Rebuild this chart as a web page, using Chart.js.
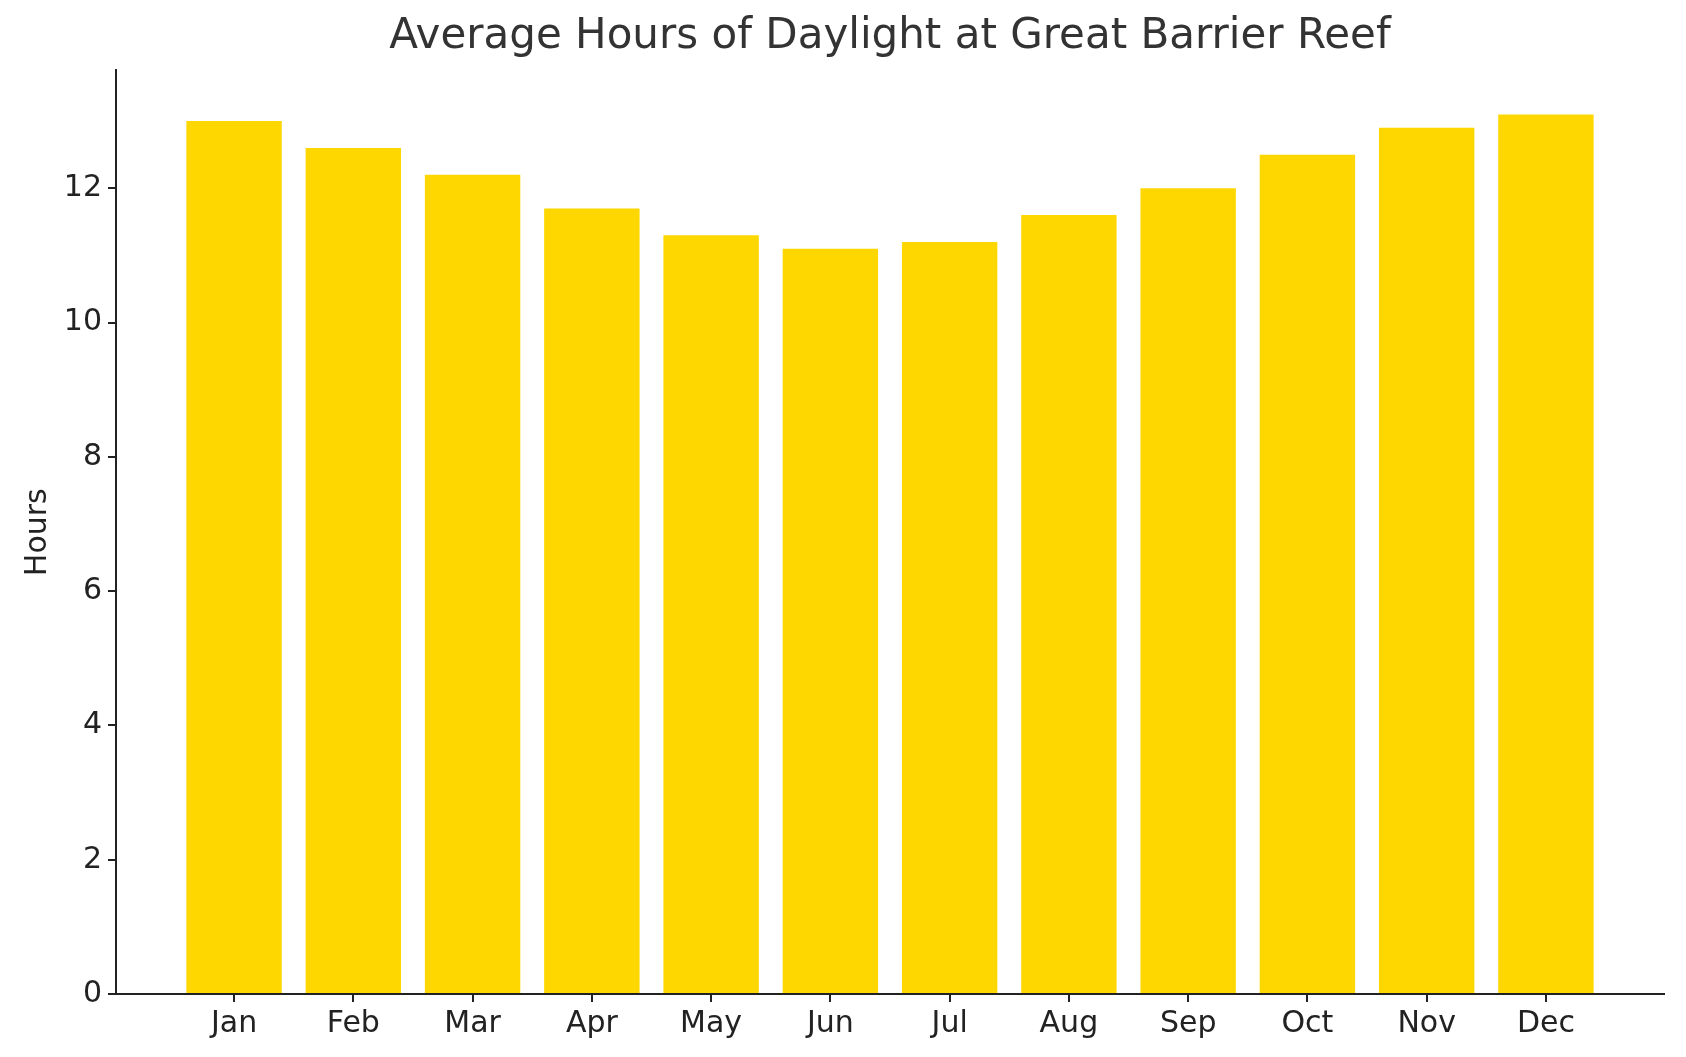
<!DOCTYPE html>
<html>
<head>
<meta charset="utf-8">
<script src="https://cdn.jsdelivr.net/npm/chart.js@4"></script>
<style>
  html, body { margin: 0; padding: 0; background: #fff; }
  #wrap { width: 1686px; height: 1057px; }
</style>
</head>
<body>
<div id="wrap"><canvas id="chart"></canvas></div>
<script>
const months = ["Jan", "Feb", "Mar", "Apr", "May", "Jun", "Jul", "Aug", "Sep", "Oct", "Nov", "Dec"];
const daylightHours = [13.0, 12.6, 12.2, 11.7, 11.3, 11.1, 11.2, 11.6, 12.0, 12.5, 12.9, 13.1];
const yTicks = [0, 2, 4, 6, 8, 10, 12];

const ink = "#222222";
const font = "'DejaVu Sans', sans-serif";

new Chart(document.getElementById("chart"), {
  type: "bar",
  data: {
    datasets: [{
      label: "Hours",
      data: daylightHours.map((v, i) => ({ x: i, y: v })),
      backgroundColor: "#FFD700",
      barPercentage: 0.8,
      categoryPercentage: 1.0
    }]
  },
  options: {
    responsive: true,
    maintainAspectRatio: false,
    animation: false,
    layout: { padding: { left: 0, right: 22, top: 0, bottom: 0 } },
    plugins: {
      legend: { display: false },
      tooltip: { enabled: false },
      title: {
        display: true,
        fullSize: false,
        text: "Average Hours of Daylight at Great Barrier Reef",
        color: "#333333",
        font: { family: font, size: 42, weight: "normal" },
        padding: { top: 12, bottom: 8 }
      }
    },
    scales: {
      x: {
        type: "linear",
        offset: false,
        min: -0.99,
        max: 11.99,
        afterBuildTicks: (axis) => { axis.ticks = months.map((m, i) => ({ value: i })); },
        afterFit: (axis) => { axis.height = 63; },
        grid: { display: true, offset: false, drawOnChartArea: false, tickLength: 8, color: ink, lineWidth: 2 },
        border: { display: true, color: ink, width: 2 },
        ticks: {
          color: ink,
          font: { family: font, size: 30 },
          padding: 4,
          maxRotation: 0,
          callback: (v) => months[v]
        }
      },
      y: {
        min: 0,
        max: 13.755,
        afterBuildTicks: (axis) => { axis.ticks = yTicks.map((v) => ({ value: v })); },
        afterFit: (axis) => { axis.width = 116; },
        grid: { display: true, drawOnChartArea: false, tickLength: 8, color: ink, lineWidth: 2 },
        border: { display: true, color: ink, width: 2 },
        title: {
          display: true,
          text: "Hours",
          color: ink,
          font: { family: font, size: 30 },
          padding: { top: 20, bottom: 8 }
        },
        ticks: {
          color: ink,
          font: { family: font, size: 30 },
          padding: 6
        }
      }
    }
  }
});
</script>
</body>
</html>
